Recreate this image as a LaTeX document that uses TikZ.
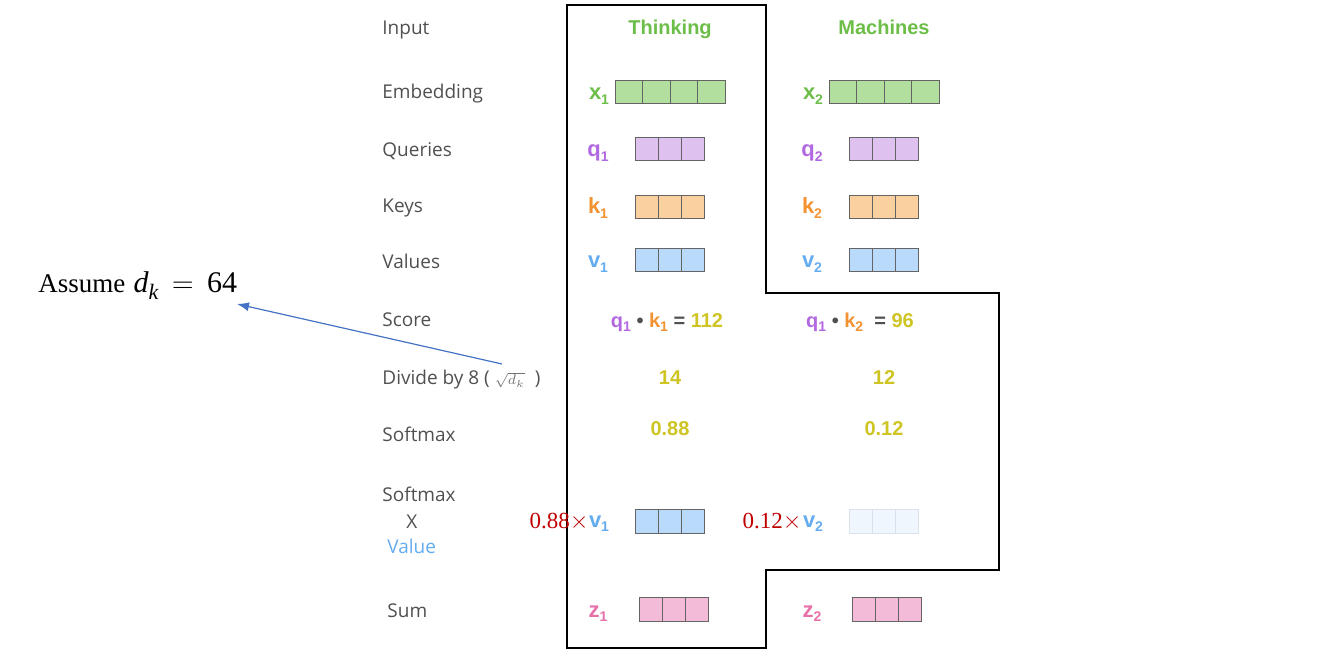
\documentclass[tikz,border=0pt]{standalone}
\usepackage{fontspec}
\setmainfont{Liberation Serif}
\newfontfamily\labfont{Open Sans}
\newfontfamily\hvfont{Liberation Sans}
\usetikzlibrary{arrows.meta}
\definecolor{labgray}{RGB}{80,80,80}
\definecolor{tgreen}{RGB}{108,190,72}
\definecolor{tpurple}{RGB}{178,104,224}
\definecolor{torange}{RGB}{242,146,48}
\definecolor{tblue}{RGB}{100,172,240}
\definecolor{tpink}{RGB}{232,112,168}
\definecolor{tyellow}{RGB}{206,196,36}
\definecolor{tred}{RGB}{192,0,0}
\definecolor{arrowblue}{RGB}{68,114,196}
\definecolor{cgreen}{RGB}{178,223,158}
\definecolor{cpurple}{RGB}{223,193,240}
\definecolor{corange}{RGB}{250,208,158}
\definecolor{cblue}{RGB}{185,218,250}
\definecolor{cpink}{RGB}{243,187,216}
\definecolor{cfaint}{RGB}{240,246,253}
\definecolor{cfaintdraw}{RGB}{218,225,235}
\definecolor{cellborder}{RGB}{100,100,100}
\newcommand\sbs[1]{\raisebox{-0.35ex}{\fontsize{7pt}{7pt}\selectfont #1}}
\newcommand\cellrow[6]{\foreach \i in {1,...,#3}{\draw[#6] ({#1+(\i-1)*#4},#2) rectangle ++(#4,#5);}}
\tikzset{
  lbl/.style={anchor=base west, inner sep=0pt, text=labgray, font=\labfont\fontsize{9.5pt}{11pt}\selectfont},
  word/.style={anchor=base, inner sep=0pt, font=\hvfont\bfseries\fontsize{10pt}{12pt}\selectfont},
  vec/.style={anchor=base, inner sep=0pt, font=\hvfont\bfseries\fontsize{11pt}{13pt}\selectfont},
  num/.style={anchor=base, inner sep=0pt, text=tyellow, font=\hvfont\bfseries\fontsize{10pt}{12pt}\selectfont},
  redtxt/.style={anchor=base east, inner sep=0pt, text=tred, font=\fontsize{11.5pt}{14pt}\selectfont},
  outline/.style={draw=black, line width=0.6pt},
  cellG/.style={fill=cgreen, draw=cellborder, line width=0.5pt},
  cellP/.style={fill=cpurple, draw=cellborder, line width=0.5pt},
  cellO/.style={fill=corange, draw=cellborder, line width=0.5pt},
  cellB/.style={fill=cblue, draw=cellborder, line width=0.5pt},
  cellK/.style={fill=cpink, draw=cellborder, line width=0.5pt},
  cellF/.style={fill=cfaint, draw=cfaintdraw, line width=0.5pt},
  conn/.style={draw=arrowblue, line width=0.6pt, -{Latex[length=6pt,width=4.5pt]}}
}
\begin{document}
\begin{tikzpicture}[x=0.5pt,y=-0.5pt]
\useasboundingbox (0,0) rectangle (1320,656);
% outline
\draw[outline] (567,5) -- (766,5) -- (766,293) -- (999,293) -- (999,570) -- (766,570) -- (766,648) -- (567,648) -- cycle;
% left labels
\node[lbl] (lInput) at (382,35) {Input};
\node[lbl] (lEmb) at (382,99) {Embedding};
\node[lbl] (lQ) at (382,157) {Queries};
\node[lbl] (lK) at (382,213) {Keys};
\node[lbl] (lV) at (382,269) {Values};
\node[lbl] (lScore) at (382,327) {Score};
\node[lbl] (lDiv) at (382,385) {Divide by 8 ( {\color{labgray!80}$\scriptstyle\sqrt{d_k}$} \ )};
\node[lbl] (lSoft) at (382,442) {Softmax};
\node[lbl] (lSoft2) at (382,502) {Softmax};
\node[lbl] (lX) at (406,528) {X};
\node[lbl, text=tblue] (lVal) at (387,553) {Value};
\node[lbl] (lSum) at (387,617) {Sum};
% column headers
\node[word, text=tgreen] (think) at (670,35) {Thinking};
\node[word, text=tgreen] (mach) at (884,35) {Machines};
% embeddings
\node[vec, text=tgreen] (x1) at (599,100) {x\sbs{1}};
\node[vec, text=tgreen] (x2) at (813,100) {x\sbs{2}};
\cellrow{615}{81}{4}{27.5}{23}{cellG}
\cellrow{829}{81}{4}{27.5}{23}{cellG}
% queries
\node[vec, text=tpurple] (q1) at (598,157) {q\sbs{1}};
\node[vec, text=tpurple] (q2) at (812,157) {q\sbs{2}};
\cellrow{635}{138}{3}{23.3}{23}{cellP}
\cellrow{849}{138}{3}{23.3}{23}{cellP}
% keys
\node[vec, text=torange] (k1) at (598,214) {k\sbs{1}};
\node[vec, text=torange] (k2) at (812,214) {k\sbs{2}};
\cellrow{635}{196}{3}{23.3}{23}{cellO}
\cellrow{849}{196}{3}{23.3}{23}{cellO}
% values
\node[vec, text=tblue] (v1) at (598,268) {v\sbs{1}};
\node[vec, text=tblue] (v2) at (812,268) {v\sbs{2}};
\cellrow{635}{249}{3}{23.3}{23}{cellB}
\cellrow{849}{249}{3}{23.3}{23}{cellB}
% scores
\node[num] (s1) at (667,328) {{\color{tpurple}q\sbs{1}} {\color{labgray}\textbullet} {\color{torange}k\sbs{1}} {\color{labgray}=} 112};
\node[num] (s2) at (860,328) {{\color{tpurple}q\sbs{1}} {\color{labgray}\textbullet} {\color{torange}k\sbs{2}} \ {\color{labgray}=} 96};
\node[num] (d1) at (670,385) {14};
\node[num] (d2) at (884,385) {12};
\node[num] (sm1) at (670,436) {0.88};
\node[num] (sm2) at (884,436) {0.12};
% softmax x value
\node[redtxt] (r1) at (589,528) {0.88$\times$};
\node[vec, text=tblue] (sv1) at (599,527) {v\sbs{1}};
\node[redtxt] (r2) at (802,528) {0.12$\times$};
\node[vec, text=tblue] (sv2) at (813,527) {v\sbs{2}};
\cellrow{635}{510}{3}{23.3}{23}{cellB}
\cellrow{849}{510}{3}{23.3}{23}{cellF}
% sum
\node[vec, text=tpink] (z1) at (598,617) {z\sbs{1}};
\node[vec, text=tpink] (z2) at (812,617) {z\sbs{2}};
\cellrow{639}{597}{3}{23.3}{24}{cellK}
\cellrow{852}{597}{3}{23.3}{24}{cellK}
% assume
\node[anchor=base west, inner sep=0pt, font=\fontsize{13.5pt}{16pt}\selectfont] (assume) at (38,293) {Assume\hspace{0.3em}{\fontsize{15pt}{16pt}\selectfont\itshape d}\raisebox{-0.5ex}{\fontsize{11pt}{11pt}\selectfont\itshape k}\hspace{0.5em}{\fontsize{15pt}{16pt}\selectfont$=$\hspace{0.45em}64}};
\coordinate (tail) at (502,364);
\coordinate (tip) at (237,304);
\draw[conn] (tail) -- (tip);
\end{tikzpicture}
\end{document}
